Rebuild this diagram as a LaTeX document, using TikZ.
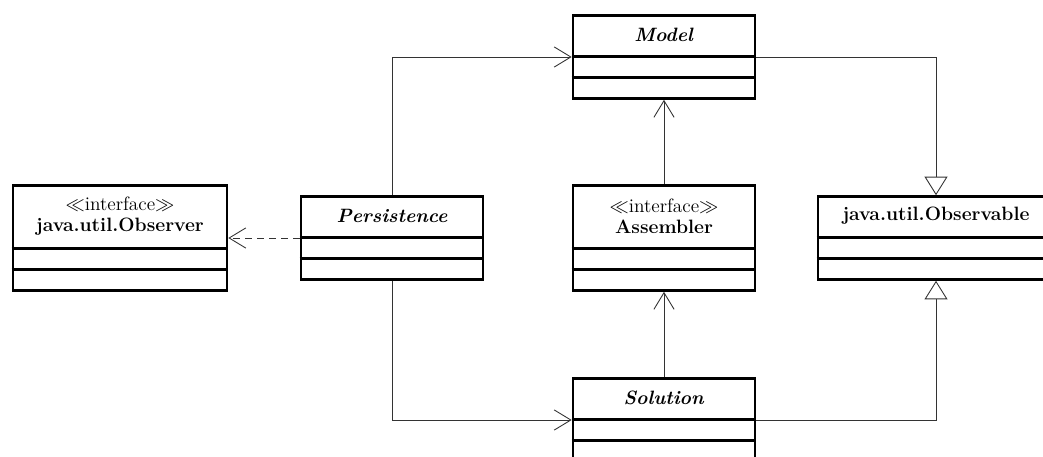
\documentclass[tikz,border=0pt]{standalone}
\usetikzlibrary{arrows.meta}

% A UML class: name, centre, width, height of the name compartment, title text.
% Two empty compartments of equal height follow the name compartment.
\newcommand{\umlclass}[5]{%
  \node[clsframe, minimum width=#3, minimum height=#4+0.84cm] (#1) at #2 {};
  \node[clstitle, minimum height=#4, anchor=north] (#1-title) at (#1.north) {#5};
  \draw[frame] ([yshift=-#4-0.75pt]#1.north west) -- ([yshift=-#4-0.75pt]#1.north east);
  \draw[frame] ([yshift=0.42cm+0.75pt]#1.south west) -- ([yshift=0.42cm+0.75pt]#1.south east);
}
\newcommand{\stereo}[1]{$\ll$#1$\gg$}

\begin{document}
\begin{tikzpicture}[x=0.02cm, y=-0.02cm,
  font=\fontsize{11pt}{12pt}\selectfont,
  frame/.style={line width=1.5pt},
  clsframe/.style={draw, line width=1.5pt, fill=white, inner sep=0pt},
  clstitle/.style={inner sep=0pt, align=center},
  link/.style={draw=black!80, line width=0.5pt},
  assoc/.style={link, -{Straight Barb[length=9.5pt, width=11.5pt, line width=0.5pt]}},
  depend/.style={assoc, dash pattern=on 4pt off 2.8pt},
  generalize/.style={link, -{Triangle[open, length=10.5pt, width=13pt, line width=0.5pt, fill=white]}}]

  \useasboundingbox (0,0) rectangle (1043,456);

  % classes
  \umlclass{observer}{(120,238)}{4.28cm}{1.26cm}{\stereo{interface}\\\textbf{java.util.Observer}}
  \umlclass{persistence}{(392,238)}{3.64cm}{0.82cm}{\textbf{\textit{Persistence}}}
  \umlclass{model}{(664,57)}{3.64cm}{0.82cm}{\textbf{\textit{Model}}}
  \umlclass{assembler}{(664,238)}{3.64cm}{1.26cm}{\stereo{interface}\\\textbf{Assembler}}
  \umlclass{observable}{(936,238)}{4.72cm}{0.82cm}{\textbf{java.util.Observable}}
  \umlclass{solution}{(664,420)}{3.64cm}{0.82cm}{\textbf{\textit{Solution}}}

  % associations and dependency
  \draw[assoc] (persistence.north) |- (model.west);
  \draw[assoc] (persistence.south) |- (solution.west);
  \draw[depend] (persistence.west) -- (persistence.west -| observer.east);
  \draw[assoc] (assembler.north) -- (model.south);
  \draw[assoc] (solution.north) -- (assembler.south);

  % generalizations
  \draw[generalize] (model.east) -| (observable.north);
  \draw[generalize] (solution.east) -| (observable.south);
\end{tikzpicture}
\end{document}
